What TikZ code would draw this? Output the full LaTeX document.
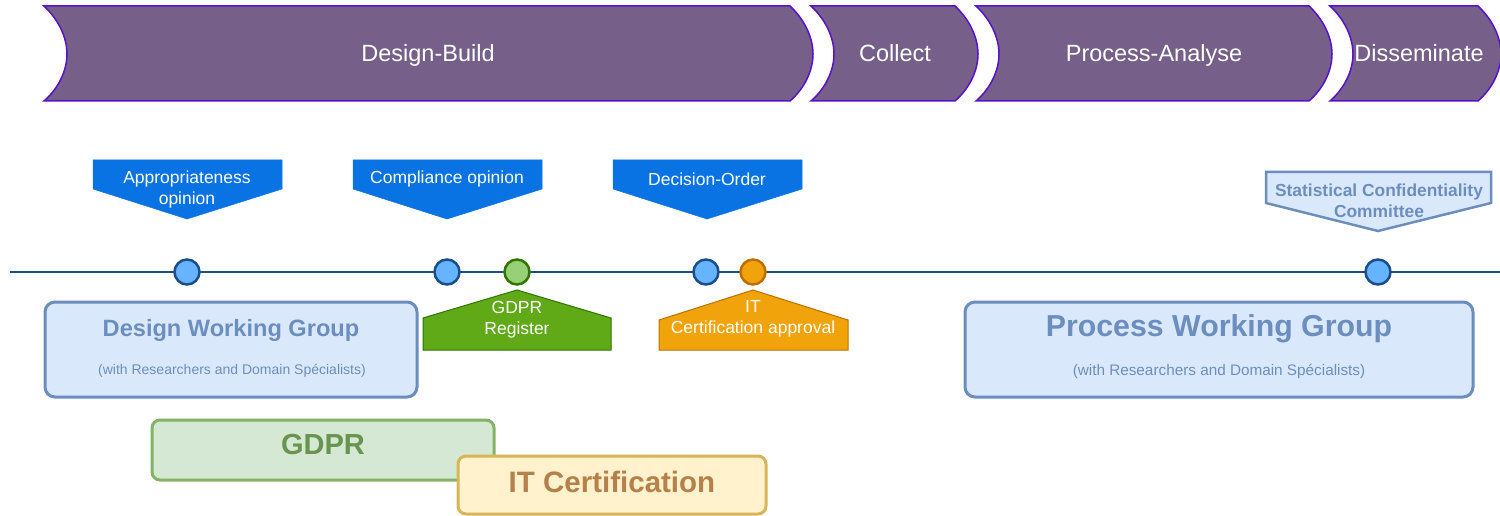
\documentclass[tikz,border=0pt]{standalone}
\usepackage{fontspec}
\setmainfont{Liberation Sans}
\definecolor{phasefill}{RGB}{118,96,138}
\definecolor{phaseline}{RGB}{88,18,200}
\definecolor{calloutblue}{RGB}{10,115,228}
\definecolor{axisblue}{RGB}{28,78,138}
\definecolor{dotblue}{RGB}{102,180,255}
\definecolor{dotgreen}{RGB}{151,208,119}
\definecolor{dotgreenline}{RGB}{45,118,0}
\definecolor{dotorange}{RGB}{240,163,10}
\definecolor{dotorangeline}{RGB}{189,112,0}
\definecolor{paleblue}{RGB}{218,232,252}
\definecolor{paleblueline}{RGB}{108,142,191}
\definecolor{palegreen}{RGB}{213,232,212}
\definecolor{palegreenline}{RGB}{130,179,102}
\definecolor{gdprtext}{RGB}{104,148,80}
\definecolor{paleyellow}{RGB}{255,242,204}
\definecolor{paleyellowline}{RGB}{214,182,86}
\definecolor{ittext}{RGB}{181,128,74}
\definecolor{regfill}{RGB}{96,169,23}
\tikzset{
  phase/.style={fill=phasefill, draw=phaseline, line width=1.5pt},
  phasetext/.style={text=white, anchor=base, font=\fontsize{23.5}{28}\selectfont},
  callout/.style={fill=calloutblue, draw=calloutblue, line width=0.5pt},
  callouttext/.style={text=white, align=center, font=\fontsize{17.5}{21}\selectfont, inner sep=0pt},
  milestone/.style={circle, minimum size=25pt, inner sep=0pt, line width=2.5pt, fill=dotblue, draw=axisblue},
  groupbox/.style={rounded corners=10pt, line width=3pt, fill=paleblue, draw=paleblueline},
}
\begin{document}
\begin{tikzpicture}[x=1pt,y=-1pt]
\useasboundingbox (0,0) rectangle (1500,516);

% phase chevrons along the top
\foreach \L/\R in {44/790, 811/955, 976/1309, 1330/1478}{
  \path[phase] (\L,6) .. controls (\L+15,20) and (\L+23,38) .. (\L+23,54)
     .. controls (\L+23,70) and (\L+15,88) .. (\L,101)
     -- (\R,101) .. controls (\R+15,88) and (\R+23,70) .. (\R+23,54)
     .. controls (\R+23,38) and (\R+15,20) .. (\R,6) -- cycle;
}
\node[phasetext] (pDB) at (428,62) {Design-Build};
\node[phasetext] (pCol) at (895,62) {Collect};
\node[phasetext] (pPA) at (1154,62) {Process-Analyse};
\node[phasetext] (pDis) at (1419,62) {Disseminate};

% blue decision callouts
\foreach \c in {187,447,707}{
  \path[callout] (\c-94,160) -- (\c+95,160) -- (\c+95,189) -- (\c,219) -- (\c-94,189) -- cycle;
}
\node[callouttext] (cApp) at (187,189) {Appropriateness\\opinion};
\node[callouttext] (cComp) at (447,179) {Compliance opinion};
\node[callouttext] (cDec) at (707,179) {Decision-Order};

% statistical confidentiality committee callout
\path[fill=paleblue, draw=paleblueline, line width=2.5pt]
  (1266,172) -- (1491,172) -- (1491,203) -- (1378,231) -- (1266,203) -- cycle;
\node[text=paleblueline, align=center, inner sep=0pt,
      font=\bfseries\fontsize{17.4}{21}\selectfont] (cSCC) at (1379,201)
  {Statistical Confidentiality\\Committee};

% timeline axis
\coordinate (axL) at (10,272);
\coordinate (axR) at (1500,272);
\draw[axisblue, line width=2.2pt] (axL) -- (axR);

\node[milestone] (m1) at (187,272) {};
\node[milestone] (m2) at (447,272) {};
\node[milestone, fill=dotgreen, draw=dotgreenline] (m3) at (517,272) {};
\node[milestone] (m4) at (706,272) {};
\node[milestone, fill=dotorange, draw=dotorangeline] (m5) at (753,272) {};
\node[milestone] (m6) at (1378,272) {};

% register / approval tags below the axis
\path[fill=regfill, draw=dotgreenline, line width=1pt]
  (423,350) -- (423,318) -- (517,290) -- (611,318) -- (611,350) -- cycle;
\node[callouttext] (tReg) at (517,320) {GDPR\\Register};
\path[fill=dotorange, draw=dotorangeline, line width=1pt]
  (659,350) -- (659,320) -- (753,290) -- (848,320) -- (848,350) -- cycle;
\node[callouttext] (tIT) at (753,319) {IT\\Certification approval};

% working groups
\draw[groupbox] (45,302) rectangle (417,397);
\node[text=paleblueline, font=\bfseries\fontsize{23.6}{28}\selectfont] (gDesign) at (231,330) {Design Working Group};
\node[text=paleblueline, font=\fontsize{14}{17}\selectfont] (gDesignSub) at (232,371) {(with Researchers and Domain Spécialists)};
\draw[groupbox] (965,302) rectangle (1473,397);
\node[text=paleblueline, font=\bfseries\fontsize{30.3}{36}\selectfont] (gProc) at (1219,329) {Process Working Group};
\node[text=paleblueline, font=\fontsize{15.3}{18}\selectfont] (gProcSub) at (1219,371) {(with Researchers and Domain Spécialists)};

% regulatory tracks
\draw[rounded corners=8pt, line width=3pt, fill=palegreen, draw=palegreenline] (152,420) rectangle (494,480);
\node[text=gdprtext, font=\bfseries\fontsize{29}{34}\selectfont] (bGDPR) at (323,445) {GDPR};
\draw[rounded corners=8pt, line width=3pt, fill=paleyellow, draw=paleyellowline] (458,456) rectangle (766,514);
\node[text=ittext, font=\bfseries\fontsize{29.5}{34}\selectfont] (bIT) at (612,482) {IT Certification};
\end{tikzpicture}
\end{document}
